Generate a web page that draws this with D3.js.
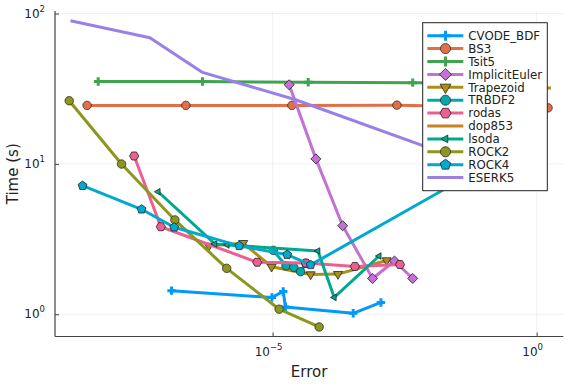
<!DOCTYPE html>
<html><head><meta charset="utf-8">
<script src="https://cdn.jsdelivr.net/npm/d3@7"></script>
<style>body{margin:0;background:#fff}svg{display:block;font-family:"DejaVu Sans",sans-serif}</style>
</head><body><svg id="c" width="576" height="384"></svg>
<script>
const seriesNames = ["CVODE_BDF","BS3","Tsit5","ImplicitEuler","Trapezoid","TRBDF2","rodas","dop853","lsoda","ROCK2","ROCK4","ESERK5"];
const colors = ["#009AFA","#E36F47","#3EA44E","#C371D2","#AC8E18","#00AAAE","#ED5E93","#C68225","#00A98D","#8E971D","#00A9CD","#9B7FE8"];
const markers = ["cross","circle","cross","diamond","tridown","circle","hexagon","none","trileft","circle","pentagon","none"];

const errCVODE = [1.22e-7, 9.7e-6, 1.59e-5, 1.75e-5, 3.36e-4, 1.125e-3];
const timeCVODE = [1.435, 1.293, 1.418, 1.118, 1.015, 1.198];
const errBS3 = [3.07e-9, 2.28e-7, 2.32e-5, 2.26e-3, 1.64];
const timeBS3 = [24.5, 24.5, 24.5, 24.6, 23.6];
const errTsit5 = [4.98e-9, 4.72e-7, 4.72e-5, 4.49e-3, 0.443];
const timeTsit5 = [35.3, 35.3, 34.9, 34.7, 34.5];
const errIE = [2.06e-5, 6.61e-5, 2.12e-4, 7.83e-4, 2.03e-3, 4.49e-3];
const timeIE = [33.6, 10.8, 3.88, 1.73, 2.26, 1.73];
const errTrap = [6.22e-7, 2.77e-6, 9.57e-6, 5.25e-5, 1.73e-4, 1.44e-3];
const timeTrap = [2.85, 2.97, 2.07, 1.84, 1.85, 2.28];
const errTRBDF2 = [1.03e-5, 1.79e-5, 2.53e-5, 3.39e-5, 4.27e-5];
const timeTRBDF2 = [2.66, 2.10, 2.05, 1.92, 2.18];
const errRodas = [2.39e-8, 7.66e-8, 5.11e-6, 4.27e-5, 3.62e-4, 2.58e-3];
const timeRodas = [11.29, 3.82, 2.217, 2.19, 2.08, 2.14];
const errDop853 = [0.01475, 1.866];
const timeDop853 = [32.0, 32.0];
const errLsoda = [6.81e-8, 8.07e-7, 1.38e-6, 7.21e-5, 1.47e-4, 1.04e-3];
const timeLsoda = [6.53, 2.934, 2.89, 2.636, 1.293, 2.44];
const errROCK2 = [1.41e-9, 1.38e-8, 1.41e-7, 1.35e-6, 1.33e-5, 7.6e-5];
const timeROCK2 = [26.3, 9.98, 4.24, 2.02, 1.08, 0.823];
const errROCK4 = [2.52e-9, 3.30e-8, 1.37e-7, 2.33e-6, 1.89e-5, 5.25e-5, 0.388];
const timeROCK4 = [7.16, 4.99, 3.79, 2.85, 2.49, 2.13, 12.5];
const errESERK5 = [1.49e-9, 4.75e-8, 4.72e-7, 2.64e-5, 0.0546];
const timeESERK5 = [89.6, 69.0, 40.6, 26.8, 10.2];

const xTicks = [1e-5, 1e0];
const xTickExp = ["\u22125", "0"];
const yTicks = [1e0, 1e1, 1e2];
const yTickExp = ["0", "1", "2"];

const errs = [errCVODE, errBS3, errTsit5, errIE, errTrap, errTRBDF2, errRodas, errDop853, errLsoda, errROCK2, errROCK4, errESERK5];
const times = [timeCVODE, timeBS3, timeTsit5, timeIE, timeTrap, timeTRBDF2, timeRodas, timeDop853, timeLsoda, timeROCK2, timeROCK4, timeESERK5];

const L = 55, R = 563.3, T = 11, B = 336.5;
const x = d3.scaleLog().domain([Math.pow(10, -9.12), Math.pow(10, 0.504)]).range([L, R]);
const y = d3.scaleLog().domain([Math.pow(10, -0.148), Math.pow(10, 2.017)]).range([B, T]);

const svg = d3.select("#c");
svg.append("defs").append("clipPath").attr("id","clip").append("rect")
  .attr("x", L).attr("y", T).attr("width", R - L).attr("height", B - T);

// grid
const g = svg.append("g");
g.selectAll(".gx").data(xTicks).enter().append("line")
  .attr("x1", d => x(d)).attr("x2", d => x(d)).attr("y1", T).attr("y2", B)
  .attr("stroke", "#000").attr("stroke-opacity", 0.1).attr("stroke-width", 0.6);
g.selectAll(".gy").data(yTicks).enter().append("line")
  .attr("y1", d => y(d)).attr("y2", d => y(d)).attr("x1", L).attr("x2", R)
  .attr("stroke", "#000").attr("stroke-opacity", 0.1).attr("stroke-width", 0.6);

// axes
const axX = svg.append("g").attr("transform", `translate(0,${B})`)
  .call(d3.axisBottom(x).tickValues(xTicks).tickSize(-4).tickFormat(""));
const axY = svg.append("g").attr("transform", `translate(${L},0)`)
  .call(d3.axisLeft(y).tickValues(yTicks).tickSize(-4).tickFormat(""));
[axX, axY].forEach(a => {
  a.select(".domain").attr("stroke", "#444").attr("stroke-width", 1.2);
  a.selectAll(".tick line").attr("stroke", "#444").attr("stroke-width", 1);
});
axX.select(".domain").attr("d", `M${L},0H${R}`);
axY.select(".domain").attr("d", `M0,${T}V${B}`);

// tick labels
xTicks.forEach((t, i) => {
  const tx = svg.append("text").attr("x", x(t) - 4).attr("y", B + 19).attr("text-anchor", "middle")
    .attr("font-size", 12).attr("fill", "#222");
  tx.append("tspan").text("10");
  tx.append("tspan").attr("dy", -6).attr("font-size", 8.5).text(xTickExp[i]);
});
yTicks.forEach((t, i) => {
  const tx = svg.append("text").attr("x", L - 10).attr("y", y(t) + 4).attr("text-anchor", "end")
    .attr("font-size", 12).attr("fill", "#222");
  tx.append("tspan").text("10");
  tx.append("tspan").attr("dy", -6).attr("font-size", 8.5).text(yTickExp[i]);
});

svg.append("text").attr("x", (L + R) / 2).attr("y", 377).attr("text-anchor", "middle")
  .attr("font-size", 15).attr("fill", "#222").text("Error");
svg.append("text").attr("transform", `translate(18,${(T + B) / 2}) rotate(-90)`).attr("text-anchor", "middle")
  .attr("font-size", 15).attr("fill", "#222").text("Time (s)");

function poly(n, r, rot) {
  const p = [];
  for (let k = 0; k < n; k++) {
    const a = rot + 2 * Math.PI * k / n;
    p.push([r * Math.cos(a), r * Math.sin(a)]);
  }
  return "M" + p.map(q => q[0].toFixed(2) + "," + q[1].toFixed(2)).join("L") + "Z";
}
function markerPath(m, s) {
  switch (m) {
    case "circle": return poly(40, s, 0);
    case "diamond": return poly(4, s * 1.2, -Math.PI / 2);
    case "tridown": return poly(3, s * 1.25, Math.PI / 2);
    case "trileft": return poly(3, s * 0.9, Math.PI);
    case "hexagon": return poly(6, s * 1.1, 0);
    case "pentagon": return poly(5, s * 1.1, -Math.PI / 2);
    case "cross": return `M${-s},0H${s}M0,${-s}V${s}`;
  }
  return "";
}
function drawMarker(sel, m, col, cx, cy, s) {
  if (m === "none") return;
  if (m === "cross") {
    sel.append("path").attr("d", markerPath(m, s)).attr("transform", `translate(${cx},${cy})`)
      .attr("stroke", col).attr("stroke-width", 3).attr("fill", "none");
  } else {
    sel.append("path").attr("d", markerPath(m, s)).attr("transform", `translate(${cx},${cy})`)
      .attr("fill", col).attr("stroke", "#222").attr("stroke-width", 0.8);
  }
}

const plot = svg.append("g").attr("clip-path", "url(#clip)");
const line = d3.line().x(d => x(d[0])).y(d => y(d[1]));
seriesNames.forEach((nm, i) => {
  const pts = errs[i].map((e, j) => [e, times[i][j]]);
  const gs = plot.append("g");
  gs.append("path").datum(pts).attr("d", line).attr("fill", "none")
    .attr("stroke", colors[i]).attr("stroke-width", 3).attr("stroke-linejoin", "round");
  pts.forEach(p => drawMarker(gs, markers[i], colors[i], x(p[0]), y(p[1]), 4.2));
});

// legend
const lg = svg.append("g");
const lx0 = 422.7, ly0 = 22.7, lw = 124.6, lh = 168;
lg.append("rect").attr("x", lx0).attr("y", ly0).attr("width", lw).attr("height", lh)
  .attr("fill", "#fff").attr("stroke", "#222").attr("stroke-width", 1);
seriesNames.forEach((nm, i) => {
  const yy = 35.7 + i * 12.9;
  lg.append("line").attr("x1", 427.3).attr("x2", 463.3).attr("y1", yy).attr("y2", yy)
    .attr("stroke", colors[i]).attr("stroke-width", 3);
  drawMarker(lg, markers[i], colors[i], 445.5, yy, 5);
  lg.append("text").attr("x", 468.3).attr("y", yy + 4.2).attr("font-size", 11.8).attr("fill", "#222").text(nm);
});
</script></body></html>
